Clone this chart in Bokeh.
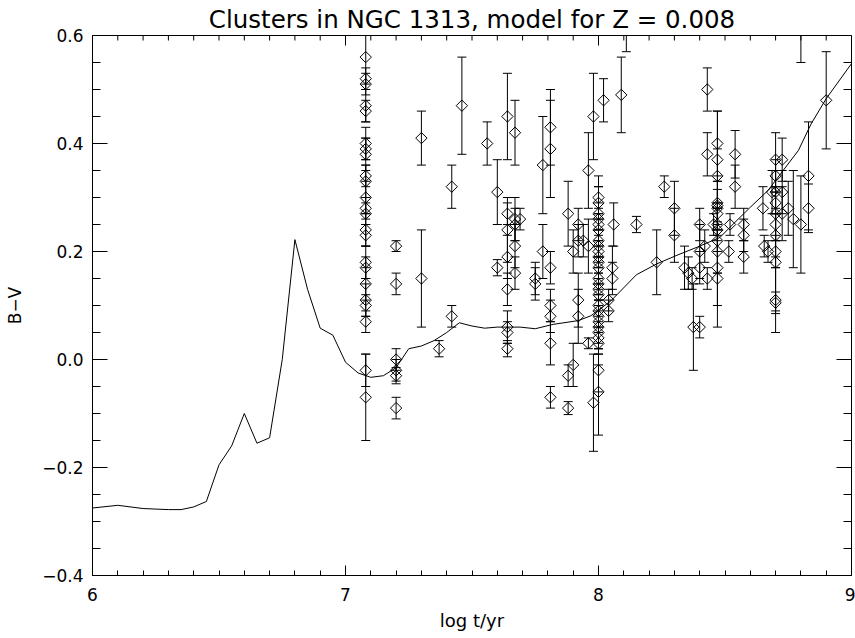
import numpy as np
from bokeh.plotting import figure
from bokeh.models import Range1d, FixedTicker, CustomJSTickFormatter
from bokeh.embed import file_html
from bokeh.resources import INLINE

# --- SSP model track (Z = 0.008): B-V colour versus log age -----------------
model_log_age = [6.00, 6.10, 6.20, 6.30, 6.35, 6.40, 6.45, 6.50, 6.55, 6.60,
                 6.65, 6.70, 6.75, 6.80, 6.85, 6.90, 6.95, 7.00, 7.05, 7.10,
                 7.15, 7.20, 7.25, 7.30, 7.35, 7.40, 7.45, 7.50, 7.55, 7.60,
                 7.69, 7.75, 7.82, 7.92, 7.97, 8.05, 8.15, 8.23, 8.31, 8.39,
                 8.48, 8.52, 8.60, 8.67, 8.72, 8.79, 8.84, 8.90, 9.00]
model_bv = [-0.275, -0.270, -0.276, -0.278, -0.278, -0.273, -0.263, -0.195, -0.160, -0.100,
            -0.155, -0.145, 0.000, 0.222, 0.130, 0.058, 0.045, -0.005, -0.025, -0.033,
            -0.030, -0.015, 0.020, 0.025, 0.035, 0.050, 0.068, 0.062, 0.058, 0.060,
            0.060, 0.057, 0.065, 0.072, 0.081, 0.109, 0.157, 0.177, 0.193, 0.208,
            0.226, 0.245, 0.282, 0.313, 0.344, 0.387, 0.436, 0.483, 0.548]

# --- Cluster photometry: log age, B-V and its error ---------------------------
cluster_log_age = (
    [7.08] * 23
    + [7.20] * 6
    + [7.30, 7.30, 7.37, 7.42, 7.42, 7.46, 7.56, 7.60, 7.60]
    + [7.64] * 8
    + [7.67] * 5
    + [7.69, 7.75, 7.75, 7.78, 7.78]
    + [7.81] * 7
    + [7.88, 7.88, 7.88, 7.90, 7.90, 7.92, 7.92, 7.92, 7.92, 7.94,
       7.96, 7.96, 7.96, 7.98, 7.98]
    + [8.00] * 26
    + [8.02, 8.04, 8.04, 8.055, 8.055, 8.06, 8.09, 8.11, 8.15, 8.23,
       8.26, 8.30, 8.30, 8.34, 8.355, 8.37, 8.375, 8.40, 8.40, 8.40,
       8.40, 8.43, 8.43, 8.43, 8.42, 8.455]
    + [8.47] * 13
    + [8.515, 8.52, 8.54, 8.54, 8.574, 8.574, 8.574, 8.65, 8.655, 8.67]
    + [8.70] * 11
    + [8.686, 8.726, 8.726, 8.726, 8.75, 8.77, 8.80, 8.83, 8.83, 8.90, 8.80]
)
cluster_bv = (
    [0.56, 0.52, 0.51, 0.47, 0.46, 0.40, 0.39, 0.38, 0.34, 0.33, 0.30, 0.28,
     0.27, 0.24, 0.23, 0.18, 0.17, 0.14, 0.11, 0.10, 0.07, -0.02, -0.07]
    + [0.21, 0.14, 0.00, -0.02, -0.03, -0.09]
    + [0.41, 0.15, 0.02, 0.32, 0.08, 0.47, 0.40, 0.31, 0.17]
    + [0.45, 0.27, 0.24, 0.19, 0.13, 0.06, 0.05, 0.02]
    + [0.42, 0.26, 0.25, 0.21, 0.16]
    + [0.26, 0.15, 0.14, 0.36, 0.20]
    + [0.43, 0.39, 0.17, 0.10, 0.08, 0.03, -0.07]
    + [0.27, -0.03, -0.09, -0.01, 0.20, 0.25, 0.22, 0.11, 0.08, 0.22,
       0.35, 0.21, 0.03, 0.45, -0.08]
    + [0.30, 0.29, 0.27, 0.26, 0.25, 0.24, 0.22, 0.21, 0.20, 0.19, 0.18, 0.17,
       0.15, 0.14, 0.13, 0.12, 0.10, 0.09, 0.08, 0.07, 0.06, 0.05, 0.04, 0.03,
       -0.02, -0.06]
    + [0.48, 0.11, 0.09, 0.17, 0.15, 0.25, 0.49, 0.64, 0.25, 0.18,
       0.32, 0.28, 0.23, 0.17, 0.16, 0.15, 0.06, 0.06, 0.25, 0.20,
       0.17, 0.50, 0.38, 0.15, 0.21, 0.25]
    + [0.40, 0.37, 0.34, 0.29, 0.285, 0.28, 0.27, 0.25, 0.24, 0.22, 0.20, 0.17, 0.15]
    + [0.20, 0.25, 0.38, 0.32, 0.25, 0.23, 0.19, 0.28, 0.21, 0.20]
    + [0.37, 0.34, 0.31, 0.29, 0.27, 0.25, 0.23, 0.20, 0.18, 0.11, 0.105]
    + [0.31, 0.37, 0.31, 0.27, 0.28, 0.26, 0.25, 0.34, 0.28, 0.48, 0.62]
)
cluster_bv_err = (
    [0.05, 0.02, 0.02, 0.03, 0.02, 0.03, 0.02, 0.03, 0.02, 0.03, 0.03, 0.02,
     0.02, 0.03, 0.02, 0.03, 0.02, 0.03, 0.03, 0.02, 0.02, 0.03, 0.08]
    + [0.01, 0.02, 0.02, 0.02, 0.015, 0.02]
    + [0.05, 0.09, 0.015, 0.04, 0.02, 0.09, 0.04, 0.06, 0.015]
    + [0.08, 0.02, 0.06, 0.04, 0.03, 0.03, 0.02, 0.015]
    + [0.06, 0.04, 0.03, 0.04, 0.03]
    + [0.02, 0.03, 0.03, 0.09, 0.05]
    + [0.07, 0.09, 0.03, 0.03, 0.03, 0.04, 0.02]
    + [0.06, 0.02, 0.012, 0.04, 0.04, 0.03, 0.03, 0.05, 0.05, 0.03,
       0.07, 0.05, 0.01, 0.08, 0.09]
    + [0.04, 0.03, 0.05, 0.02, 0.04, 0.03, 0.05, 0.02, 0.04, 0.03, 0.06, 0.02,
       0.04, 0.03, 0.05, 0.02, 0.04, 0.03, 0.05, 0.02, 0.04, 0.06, 0.03, 0.02,
       0.04, 0.08]
    + [0.04, 0.02, 0.02, 0.04, 0.03, 0.04, 0.07, 0.07, 0.015, 0.06,
       0.02, 0.05, 0.05, 0.04, 0.03, 0.02, 0.08, 0.02, 0.03, 0.05,
       0.03, 0.04, 0.04, 0.02, 0.03, 0.02]
    + [0.06, 0.09, 0.05, 0.04, 0.03, 0.05, 0.02, 0.03, 0.04, 0.06, 0.04, 0.07, 0.09]
    + [0.02, 0.02, 0.044, 0.04, 0.03, 0.03, 0.03, 0.04, 0.02, 0.02]
    + [0.05, 0.03, 0.04, 0.02, 0.05, 0.03, 0.04, 0.03, 0.09, 0.06, 0.02]
    + [0.04, 0.04, 0.04, 0.05, 0.05, 0.09, 0.09, 0.10, 0.045, 0.09, 0.07]
)

# axis ticks
x_major = [6, 7, 8, 9]
x_minor = [round(6 + 0.1 * i, 1) for i in range(31)]
y_major = [-0.4, -0.2, 0.0, 0.2, 0.4, 0.6]
y_minor = [round(-0.4 + 0.05 * i, 2) for i in range(21)]

X0, X1 = 6.0, 9.0
Y0, Y1 = -0.4, 0.6

# frame geometry (pixels)
W, H = 855, 638
LEFT, RIGHT, TOP, BOTTOM = 92, 4, 35, 63
FRAME_W = W - LEFT - RIGHT
FRAME_H = H - TOP - BOTTOM
X_PER_PX = (X1 - X0) / FRAME_W
Y_PER_PX = (Y1 - Y0) / FRAME_H

X_TICK, X_MINOR_TICK = 10, 5
Y_TICK, Y_MINOR_TICK = 15, 8

FONT = "DejaVu Sans"
INK = "black"

p = figure(width=W, height=H, output_backend="svg", toolbar_location=None,
           x_range=Range1d(X0, X1), y_range=Range1d(Y0, Y1),
           min_border_left=LEFT, min_border_right=RIGHT, min_border_top=TOP,
           min_border_bottom=BOTTOM)
p.background_fill_color = "white"
p.border_fill_color = "white"
p.outline_line_color = INK
p.outline_line_width = 1
p.xgrid.visible = False
p.ygrid.visible = False

p.title.text = "Clusters in NGC 1313, model for Z = 0.008"
p.title.align = "center"
p.title.vertical_align = "top"
p.title.text_font = FONT
p.title.text_font_size = "24.5px"
p.title.text_font_style = "normal"
p.title.text_color = INK
p.title.standoff = 0
p.title.offset = 0

x_fmt = CustomJSTickFormatter(code="return tick.toFixed(0);")
y_fmt = CustomJSTickFormatter(code="return tick.toFixed(1).replace('-', '\u2212');")


def style_axis(ax, major_len, minor_len, label_size):
    ax.axis_line_color = INK
    ax.major_tick_line_color = INK
    ax.minor_tick_line_color = INK
    ax.major_tick_in = major_len
    ax.major_tick_out = 0
    ax.minor_tick_in = minor_len
    ax.minor_tick_out = 0
    ax.major_label_text_font = FONT
    ax.major_label_text_color = INK
    ax.major_label_text_font_size = "17px"
    ax.axis_label_text_font = FONT
    ax.axis_label_text_font_style = "normal"
    ax.axis_label_text_color = INK
    ax.axis_label_text_font_size = label_size


xb = p.xaxis[0]
xb.ticker = FixedTicker(ticks=x_major, minor_ticks=x_minor)
xb.formatter = x_fmt
xb.axis_label = "log t/yr"
style_axis(xb, X_TICK, X_MINOR_TICK, "18px")
xb.major_label_standoff = 12
xb.axis_label_standoff = 6

yl = p.yaxis[0]
yl.ticker = FixedTicker(ticks=y_major, minor_ticks=y_minor)
yl.formatter = y_fmt
yl.axis_label = "B\u2212V"
style_axis(yl, Y_TICK, Y_MINOR_TICK, "17px")
yl.major_label_standoff = 9
yl.axis_label_standoff = 14

# matching inward ticks along the top and right edges of the box
xs_min = np.array(x_minor, dtype=float)
xs_maj = np.array(x_major, dtype=float)
ys_min = np.array(y_minor, dtype=float)
ys_maj = np.array(y_major, dtype=float)
p.segment(x0=xs_min, y0=[Y1] * len(xs_min), x1=xs_min,
          y1=[Y1 - X_MINOR_TICK * Y_PER_PX] * len(xs_min), line_color=INK, line_width=1)
p.segment(x0=xs_maj, y0=[Y1] * len(xs_maj), x1=xs_maj,
          y1=[Y1 - X_TICK * Y_PER_PX] * len(xs_maj), line_color=INK, line_width=1)
p.segment(x0=[X1] * len(ys_min), y0=ys_min, x1=[X1 - Y_MINOR_TICK * X_PER_PX] * len(ys_min),
          y1=ys_min, line_color=INK, line_width=1)
p.segment(x0=[X1] * len(ys_maj), y0=ys_maj, x1=[X1 - Y_TICK * X_PER_PX] * len(ys_maj),
          y1=ys_maj, line_color=INK, line_width=1)

# model track
p.line(model_log_age, model_bv, line_color=INK, line_width=1)

# error bars with end caps
age = np.array(cluster_log_age, dtype=float)
bv = np.array(cluster_bv, dtype=float)
err = np.array(cluster_bv_err, dtype=float)
p.segment(x0=age, y0=bv - err, x1=age, y1=bv + err, line_color=INK, line_width=1)
p.scatter(age, bv + err, marker="dash", size=9, line_color=INK, line_width=1)
p.scatter(age, bv - err, marker="dash", size=9, line_color=INK, line_width=1)

# cluster points as open diamonds
p.scatter(age, bv, marker="square", angle=np.pi / 4, size=8,
          fill_color=None, line_color=INK, line_width=1)

open("out.html", "w").write(file_html(p, INLINE))
